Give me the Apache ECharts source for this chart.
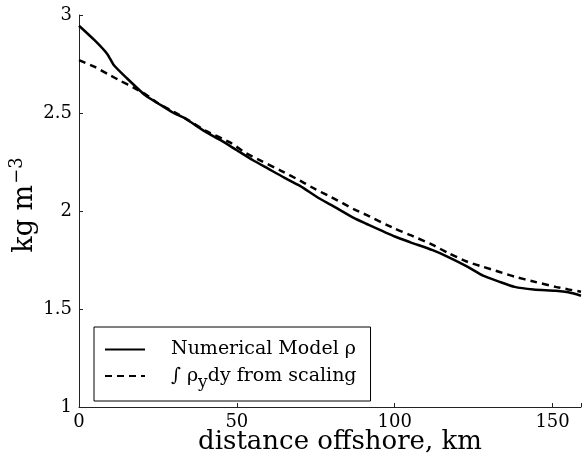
<!DOCTYPE html>
<html><head><meta charset="utf-8">
<script src="https://cdn.jsdelivr.net/npm/echarts@6/dist/echarts.min.js"></script>
<style>html,body{margin:0;padding:0;background:#fff}#c{width:582px;height:458px}</style>
</head><body><div id="c"></div>
<script>
const seriesNames = ['Numerical Model ρ', '∫ ρ_y dy from scaling'];
const modelDist = [0, 5, 9, 11, 15, 21, 25, 30, 33.5, 40, 45, 50, 55, 60, 65, 70, 76, 80, 87, 91, 100, 105, 112, 117, 123, 128, 133, 138, 144, 151, 155, 159];
const modelRho  = [2.945, 2.87, 2.80, 2.745, 2.68, 2.59, 2.55, 2.50, 2.473, 2.405, 2.36, 2.31, 2.26, 2.215, 2.17, 2.128, 2.065, 2.03, 1.965, 1.935, 1.87, 1.84, 1.80, 1.765, 1.716, 1.67, 1.64, 1.613, 1.600, 1.593, 1.585, 1.568];
const scaleDist = [0, 5, 9, 13, 17.7, 21.4, 25, 30.9, 35, 40, 47.8, 53, 58, 64, 70, 75, 80, 87, 91, 100, 106, 112, 117, 123, 128, 133, 138, 144, 151, 155, 159];
const scaleRho  = [2.77, 2.735, 2.70, 2.665, 2.626, 2.592, 2.55, 2.498, 2.46, 2.41, 2.35, 2.294, 2.253, 2.205, 2.155, 2.11, 2.07, 2.01, 1.98, 1.91, 1.87, 1.827, 1.785, 1.741, 1.715, 1.69, 1.665, 1.64, 1.613, 1.60, 1.588];
const xTicks = [0, 50, 100, 150];
const yTicks = [1, 1.5, 2, 2.5, 3];

const F = 'DejaVu Serif';
const chart = echarts.init(document.getElementById('c'), null, {renderer: 'canvas'});
chart.setOption({
  animation: false,
  backgroundColor: '#fff',
  grid: {left: 79, right: 1, top: 15, bottom: 51, containLabel: false, outerBoundsMode: 'none'},
  xAxis: {
    type: 'value', min: 0, max: 159, interval: 50,
    name: 'distance offshore, km', nameLocation: 'middle', nameGap: 22, nameMoveOverlap: false,
    nameTextStyle: {fontFamily: F, fontSize: 26, color: '#000', padding: [0, 0, 0, 20]},
    axisLine: {show: true, lineStyle: {color: '#222', width: 1}},
    axisTick: {show: true, inside: true, length: 4, lineStyle: {color: '#222'}},
    axisLabel: {fontFamily: F, fontSize: 18, color: '#000', margin: 6,
      formatter: v => xTicks.indexOf(v) >= 0 ? String(v) : ''},
    splitLine: {show: false}
  },
  yAxis: {
    type: 'value', min: 1, max: 3, interval: 0.5,
    name: '{a|kg m}{s|−3}', nameLocation: 'middle', nameGap: 37, nameRotate: 90, nameMoveOverlap: false,
    nameTextStyle: {fontFamily: F, color: '#000', padding: [0, 0, 0, 12],
      rich: {a: {fontFamily: F, fontSize: 27, color: '#000'},
             s: {fontFamily: F, fontSize: 18, color: '#000', padding: [0, 0, 16, 1]}}},
    axisLine: {show: true, lineStyle: {color: '#222', width: 1}},
    axisTick: {show: true, inside: true, length: 4, lineStyle: {color: '#222'}},
    axisLabel: {fontFamily: F, fontSize: 18, color: '#000', margin: 7,
      formatter: v => yTicks.indexOf(v) >= 0 ? String(v) : ''},
    splitLine: {show: false}
  },
  legend: {
    orient: 'vertical', left: 94, top: 327,
    padding: [13, 14, 10, 10],
    itemWidth: 40, itemHeight: 14, itemGap: 2,
    borderColor: '#000', borderWidth: 1, backgroundColor: '#fff',
    itemStyle: {color: 'rgba(0,0,0,0)', borderWidth: 0, opacity: 0},
    data: seriesNames,
    formatter: n => n === seriesNames[1] ? '{t|∫ ρ}{sub|y}{t|dy from scaling}' : '{t|' + n + '}',
    textStyle: {fontFamily: F, fontSize: 19, color: '#000', padding: [0, 0, 0, 21],
      rich: {t: {fontFamily: F, fontSize: 19, color: '#000', lineHeight: 21},
             sub: {fontFamily: F, fontSize: 17, color: '#000', padding: [13, 0, 0, 0], lineHeight: 21}}}
  },
  series: [
    {name: seriesNames[0], type: 'line', symbol: 'none', smooth: 0.2,
     data: modelDist.map((d, i) => [d, modelRho[i]]),
     itemStyle: {color: '#000'},
     lineStyle: {color: '#000', width: 2.5, type: 'solid'}},
    {name: seriesNames[1], type: 'line', symbol: 'none', smooth: 0.2,
     data: scaleDist.map((d, i) => [d, scaleRho[i]]),
     itemStyle: {color: '#000'},
     lineStyle: {color: '#000', width: 2.5, type: [7, 5]}}
  ]
});
</script></body></html>
